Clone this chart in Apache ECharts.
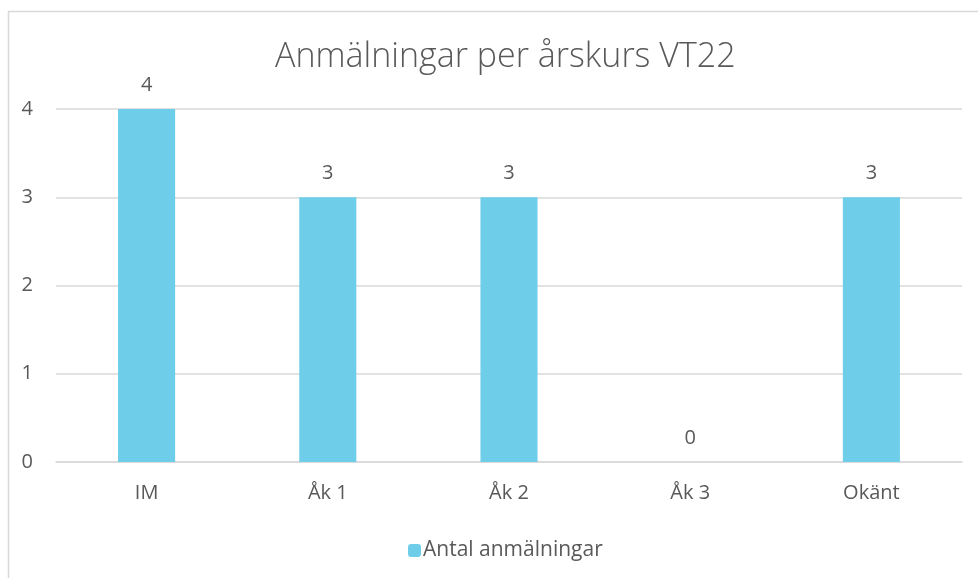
<!DOCTYPE html>
<html>
<head>
  <meta charset="utf-8">
  <title>Anmälningar per årskurs VT22</title>
  <script src="https://cdn.jsdelivr.net/npm/echarts@6/dist/echarts.min.js"></script>
  <style>
    body { margin: 0; background: #fff; }
  </style>
</head>
<body>
  <div id="main" style="width: 978px;height:578px;"></div>
  <script type="text/javascript">
    // data
    var categories = ['IM', 'Åk 1', 'Åk 2', 'Åk 3', 'Okänt'];
    var counts = [4, 3, 3, 0, 3];
    var seriesName = 'Antal anmälningar';
    var titleText = 'Anmälningar per årskurs VT22';

    var textColor = '#595959';
    var gridColor = '#d9d9d9';
    var font = 'Open Sans';

    var myChart = echarts.init(document.getElementById('main'));

    var option = {
      animation: false,
      textStyle: { fontFamily: font },
      title: {
        text: titleText,
        left: 270,
        top: 35,
        textStyle: { fontFamily: font, fontWeight: 300, fontSize: 34, color: textColor }
      },
      // chart frame
      graphic: [{
        type: 'rect',
        shape: { x: 8.5, y: 11.5, width: 1000, height: 600 },
        style: { fill: 'none', stroke: gridColor, lineWidth: 1.5 },
        silent: true
      }],
      legend: {
        bottom: 12,
        left: 403,
        itemWidth: 13,
        itemHeight: 13,
        itemGap: 10,
        textStyle: { fontSize: 21, color: textColor, padding: [0, 0, 0, -3] },
        data: [seriesName]
      },
      grid: { left: 56, right: 16, top: 109, bottom: 116 },
      xAxis: {
        type: 'category',
        data: categories,
        axisTick: { show: false },
        axisLine: { lineStyle: { color: gridColor, width: 1.5 } },
        axisLabel: { fontSize: 20, color: textColor, margin: 21 }
      },
      yAxis: {
        type: 'value',
        min: 0,
        max: 4,
        interval: 1,
        axisLine: { show: false },
        axisTick: { show: false },
        axisLabel: { fontSize: 20, color: textColor, margin: 23 },
        splitLine: { lineStyle: { color: gridColor, width: 1.5 } }
      },
      series: [{
        name: seriesName,
        type: 'bar',
        data: counts,
        barWidth: '31.5%',
        itemStyle: { color: '#6ecde9' },
        label: {
          show: true,
          position: 'top',
          distance: 14,
          fontSize: 20,
          color: textColor
        }
      }]
    };

    myChart.setOption(option);
  </script>
</body>
</html>
